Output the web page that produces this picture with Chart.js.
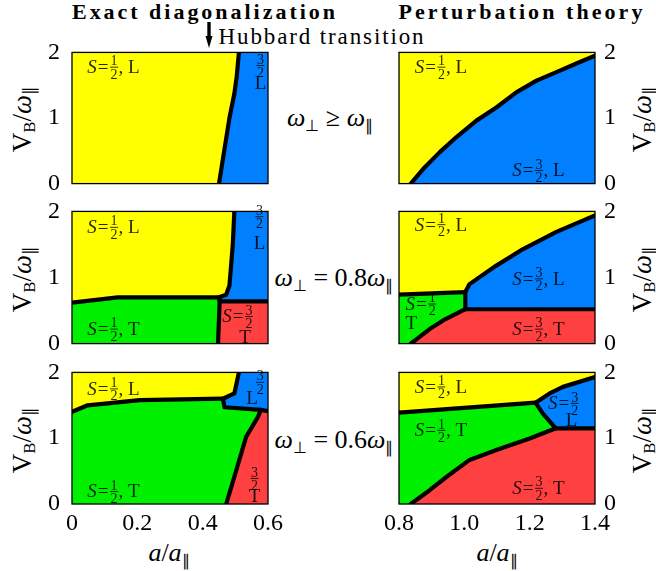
<!DOCTYPE html>
<html lang="en">
<head>
  <meta charset="UTF-8">
  <title>Spin phase diagrams</title>
  <script src="https://cdn.jsdelivr.net/npm/chart.js"></script>
  <style>
    body {
      margin: 0;
      background: #fff;
      width: 656px;
      height: 571px;
      position: relative;
      overflow: hidden;
      font-family: "Liberation Serif", "Times New Roman", serif;
    }
    .box { position: absolute; }
    .t { position: absolute; white-space: nowrap; line-height: 1; color: #000; }
    .b { font-weight: bold; font-size: 22px; }
    .m { font-size: 26px; }
    .c { transform: translate(-50%, -50%); }
    .yt { font-size: 27px; transform: translate(-50%, -50%) rotate(-90deg); }
    sub { font-size: 0.62em; vertical-align: -0.28em; line-height: 0; }
  </style>
</head>
<body>
  <div class="t b" id="h1">Exact diagonalization</div>
  <div class="t b" id="h2">Perturbation theory</div>
  <div class="t m" id="hub" style="font-size:23px">Hubbard transition</div>
  <svg width="12" height="28" style="position:absolute;left:203px;top:21px">
    <line x1="6" y1="1" x2="6" y2="19" stroke="#000" stroke-width="3.4"/>
    <path d="M2.5 15 L6 27 L9.5 15 Z" fill="#000"/>
  </svg>

  <div class="t m c" style="left:330px;top:118px"><i>ω</i><sub>⊥</sub> ≥ <i>ω</i><sub>∥</sub></div>
  <div class="t m c" style="left:334px;top:278px"><i>ω</i><sub>⊥</sub> = 0.8<i>ω</i><sub>∥</sub></div>
  <div class="t m c" style="left:334px;top:440px"><i>ω</i><sub>⊥</sub> = 0.6<i>ω</i><sub>∥</sub></div>

  <div class="t yt" style="left:22px;top:119px">V<sub>B</sub>/<i>ω</i><sub>∥</sub></div>
  <div class="t yt" style="left:22px;top:279px">V<sub>B</sub>/<i>ω</i><sub>∥</sub></div>
  <div class="t yt" style="left:22px;top:440px">V<sub>B</sub>/<i>ω</i><sub>∥</sub></div>
  <div class="t yt" style="left:642px;top:119px">V<sub>B</sub>/<i>ω</i><sub>∥</sub></div>
  <div class="t yt" style="left:642px;top:279px">V<sub>B</sub>/<i>ω</i><sub>∥</sub></div>
  <div class="t yt" style="left:642px;top:440px">V<sub>B</sub>/<i>ω</i><sub>∥</sub></div>

  <div class="t m c" style="left:169px;top:553px"><i>a</i>/<i>a</i><sub>∥</sub></div>
  <div class="t m c" style="left:497px;top:553px"><i>a</i>/<i>a</i><sub>∥</sub></div>

  <div class="box" id="p0"><canvas id="c0"></canvas></div>
  <div class="box" id="p1"><canvas id="c1"></canvas></div>
  <div class="box" id="p2"><canvas id="c2"></canvas></div>
  <div class="box" id="p3"><canvas id="c3"></canvas></div>
  <div class="box" id="p4"><canvas id="c4"></canvas></div>
  <div class="box" id="p5"><canvas id="c5"></canvas></div>

  <script>
    // colours of the four phases
    const YELLOW = "#ffff00", BLUE = "#0080ff", GREEN = "#00f000", RED = "#ff4040";

    // axis ticks
    const edTicks = [0, 0.2, 0.4, 0.6];
    const ptTicks = [0.8, 1, 1.2, 1.4];
    const vbTicks = [0, 1, 2];

    // ---- phase boundaries, [a/a_par, V_B/w_par] ----
    // exact diagonalization, w_perp >= w_par
    const ed1_yb = [[0.45, 0], [0.482, 1.0], [0.497, 1.37], [0.504, 1.62], [0.511, 2]];
    // perturbation theory, w_perp >= w_par
    const pt1_yb = [[0.836, 0], [0.879, 0.25], [0.925, 0.48], [0.976, 0.71], [1.037, 0.96], [1.098, 1.16],
                    [1.159, 1.39], [1.221, 1.57], [1.282, 1.70], [1.343, 1.83], [1.4, 1.95]];

    // exact diagonalization, w_perp = 0.8 w_par
    const ed2_yg = [[0, 0.62], [0.14, 0.70], [0.45, 0.70]];
    const ed2_yb = [[0.45, 0.70], [0.472, 0.74], [0.482, 0.88], [0.492, 1.48], [0.497, 2]];
    const ed2_gb = [[0.45, 0.70], [0.452, 0.64]];
    const ed2_gr = [[0.447, 0], [0.452, 0.64]];
    const ed2_br = [[0.452, 0.64], [0.6, 0.64]];
    // perturbation theory, w_perp = 0.8 w_par
    const pt2_yg = [[0.8, 0.74], [1.003, 0.78]];
    const pt2_yb = [[1.003, 0.78], [1.016, 0.90], [1.098, 1.18], [1.18, 1.43], [1.282, 1.69], [1.4, 1.94]];
    const pt2_gb = [[1.003, 0.78], [1.003, 0.52]];
    const pt2_gr = [[0.836, 0], [0.894, 0.22], [0.935, 0.35], [1.003, 0.52]];
    const pt2_br = [[1.003, 0.52], [1.4, 0.52]];

    // exact diagonalization, w_perp = 0.6 w_par
    const ed3_yg = [[0, 1.40], [0.048, 1.50], [0.207, 1.58], [0.462, 1.60]];
    const ed3_yb = [[0.462, 1.60], [0.497, 1.68], [0.511, 2]];
    const ed3_gb = [[0.462, 1.60], [0.467, 1.47], [0.578, 1.43], [0.6, 1.41]];
    const ed3_gr = [[0.472, 0], [0.503, 0.515], [0.533, 1.02], [0.569, 1.32], [0.578, 1.43]];
    // perturbation theory, w_perp = 0.6 w_par
    const pt3_yg = [[0.8, 1.39], [1.218, 1.54]];
    const pt3_yb = [[1.218, 1.54], [1.261, 1.68], [1.302, 1.78], [1.4, 1.93]];
    const pt3_gb = [[1.218, 1.54], [1.241, 1.37], [1.28, 1.15]];
    const pt3_br = [[1.28, 1.15], [1.4, 1.15]];
    const pt3_gr = [[0.836, 0], [0.894, 0.21], [0.945, 0.41], [1.016, 0.67], [1.098, 0.82], [1.2, 0.995], [1.28, 1.15]];

    const rev = a => a.slice().reverse();

    // phase labels: [a, V_B, tokens, align]
    const ed1_notes = [[0.047, 1.776, ["S", "=", "1/2", ", L"]], [0.577, 1.80, ["3/2"], "center"], [0.577, 1.53, ["L"], "center"]];
    const pt1_notes = [[0.848, 1.776, ["S", "=", "1/2", ", L"]], [1.147, 0.20, ["S", "=", "3/2", ", L"]]];
    const ed2_notes = [[0.047, 1.76, ["S", "=", "1/2", ", L"]], [0.574, 1.92, ["3/2"], "center"], [0.574, 1.52, ["L"], "center"],
                       [0.047, 0.22, ["S", "=", "1/2", ", T"]], [0.46, 0.41, ["S", "=", "3/2"]], [0.53, 0.106, ["T"], "center"]];
    const pt2_notes = [[0.848, 1.80, ["S", "=", "1/2", ", L"]], [1.147, 0.98, ["S", "=", "3/2", ", L"]],
                       [0.82, 0.60, ["S", "=", "1/2"]], [0.82, 0.31, ["T"]], [1.147, 0.22, ["S", "=", "3/2", ", T"]]];
    const ed3_notes = [[0.047, 1.75, ["S", "=", "1/2", ", L"]], [0.551, 1.61, ["L"], "center"], [0.576, 1.85, ["3/2"], "center"],
                       [0.047, 0.19, ["S", "=", "1/2", ", T"]], [0.559, 0.39, ["3/2"], "center"], [0.559, 0.12, ["T"], "center"]];
    const pt3_notes = [[0.848, 1.78, ["S", "=", "1/2", ", L"]], [1.256, 1.53, ["S", "=", "3/2"]], [1.328, 1.27, ["L"], "center"],
                       [0.848, 1.12, ["S", "=", "1/2", ", T"]], [1.147, 0.24, ["S", "=", "3/2", ", T"]]];

    const panels = [
      { col: 0, row: 0, notes: ed1_notes,
        regions: [[YELLOW, [[0, 0], ...ed1_yb, [0, 2]]], [BLUE, [...ed1_yb, [0.6, 2], [0.6, 0]]]],
        lines: [ed1_yb] },
      { col: 1, row: 0, notes: pt1_notes,
        regions: [[YELLOW, [[0.8, 0], ...pt1_yb, [1.4, 2], [0.8, 2]]], [BLUE, [...pt1_yb, [1.4, 0]]]],
        lines: [pt1_yb] },
      { col: 0, row: 1, notes: ed2_notes,
        regions: [[YELLOW, [[0, 2], ...ed2_yg, ...ed2_yb.slice(1)]],
                  [BLUE, [...rev(ed2_yb), ...ed2_br, [0.6, 2]]],
                  [GREEN, [[0, 0], ...ed2_yg, ...ed2_gb.slice(1), ...rev(ed2_gr).slice(1)]],
                  [RED, [...ed2_gr, [0.6, 0.64], [0.6, 0]]]],
        lines: [ed2_yg, ed2_yb, ed2_gb, ed2_gr, ed2_br] },
      { col: 1, row: 1, notes: pt2_notes,
        regions: [[YELLOW, [[0.8, 2], ...pt2_yg, ...pt2_yb.slice(1), [1.4, 2]]],
                  [BLUE, [...pt2_yb, ...rev(pt2_br)]],
                  [GREEN, [[0.8, 0], ...pt2_yg, ...pt2_gb.slice(1), ...rev(pt2_gr).slice(1)]],
                  [RED, [...pt2_gr, [1.4, 0.52], [1.4, 0]]]],
        lines: [pt2_yg, pt2_yb, pt2_gb, pt2_gr, pt2_br] },
      { col: 0, row: 2, notes: ed3_notes,
        regions: [[YELLOW, [[0, 2], ...ed3_yg, ...ed3_yb.slice(1)]],
                  [BLUE, [...rev(ed3_yb), ...ed3_gb.slice(1), [0.6, 2]]],
                  [GREEN, [[0, 0], ...ed3_yg, ...ed3_gb.slice(1, 3), ...rev(ed3_gr).slice(1)]],
                  [RED, [...ed3_gr, [0.6, 1.41], [0.6, 0]]]],
        lines: [ed3_yg, ed3_yb, ed3_gb, ed3_gr] },
      { col: 1, row: 2, notes: pt3_notes,
        regions: [[YELLOW, [[0.8, 2], ...pt3_yg, ...pt3_yb.slice(1), [1.4, 2]]],
                  [BLUE, [...pt3_yb, [1.4, 1.15], ...pt3_gb.slice(1).reverse()]],
                  [GREEN, [[0.8, 0], ...pt3_yg, ...pt3_gb.slice(1), ...rev(pt3_gr).slice(1)]],
                  [RED, [...pt3_gr, [1.4, 1.15], [1.4, 0]]]],
        lines: [pt3_yg, pt3_yb, pt3_gb, pt3_br, pt3_gr] },
    ];

    // page layout of the plot areas
    const colLeft = [72, 399], plotW = 196;
    const rowTop = [52, 211, 372], rowH = [131, 132, 132];
    const PAD = 14, YW = 45, XH = 40;

    const FAM = '"Liberation Serif", "Times New Roman", serif';
    const MAIN = '19px ' + FAM, ITAL = 'italic 19px ' + FAM, FRAC = '14px ' + FAM;

    function tokenWidth(ctx, t) {
      if (t === "S") { ctx.font = ITAL; return ctx.measureText("S").width + 1; }
      if (t === "=") { ctx.font = MAIN; return ctx.measureText("=").width + 1; }
      if (/^\d\/\d$/.test(t)) { ctx.font = FRAC; const [n, d] = t.split("/"); return Math.max(ctx.measureText(n).width, ctx.measureText(d).width) + 2; }
      ctx.font = MAIN; return ctx.measureText(t).width;
    }

    function drawMath(ctx, px, py, tokens, align) {
      const widths = tokens.map(t => tokenWidth(ctx, t));
      let x = px;
      if (align === "center") x -= widths.reduce((s, w) => s + w, 0) / 2;
      const base = py + 6;
      tokens.forEach((t, i) => {
        const w = widths[i];
        if (t === "S") { ctx.font = ITAL; ctx.fillText("S", x, base); }
        else if (t === "=") { ctx.font = MAIN; ctx.fillText("=", x, base); }
        else if (/^\d\/\d$/.test(t)) {
          const [n, d] = t.split("/");
          ctx.font = FRAC;
          ctx.textAlign = "center";
          ctx.fillText(n, x + w / 2, py - 1.8);
          ctx.fillText(d, x + w / 2, py + 11.5);
          ctx.fillRect(x + 0.5, py - 0.4, w - 1, 0.9);
          ctx.textAlign = "left";
        } else { ctx.font = MAIN; ctx.fillText(t, x, base); }
        x += w;
      });
    }

    function makeConfig(p) {
      const left = p.col === 0;
      const bottom = p.row === 2;
      const datasets = [];
      p.regions.forEach(([color, pts]) => {
        datasets.push({
          data: pts.map(([x, y]) => ({ x, y })),
          fill: "shape", backgroundColor: color, borderWidth: 0,
          pointRadius: 0, tension: 0, order: 2
        });
      });
      p.lines.forEach(pts => {
        datasets.push({
          data: pts.map(([x, y]) => ({ x, y })),
          fill: false, borderColor: "#000", borderWidth: 4.2,
          borderCapStyle: "round", borderJoinStyle: "round",
          pointRadius: 0, tension: 0, order: 1
        });
      });
      const tickFont = { family: FAM, size: 24 };
      const xScale = {
        type: "linear", min: left ? 0 : 0.8, max: left ? 0.6 : 1.4,
        display: bottom,
        grid: { display: false, drawTicks: false },
        border: { display: false },
        afterBuildTicks: s => { s.ticks = (left ? edTicks : ptTicks).map(v => ({ value: v })); },
        ticks: { font: tickFont, color: "#000", padding: 5, maxRotation: 0 }
      };
      if (bottom) xScale.afterFit = s => { s.height = XH; };
      return {
        type: "line",
        data: { datasets },
        options: {
          responsive: false,
          maintainAspectRatio: false,
          animation: false,
          events: [],
          layout: { padding: { left: left ? 0 : PAD, right: left ? PAD : 0, top: PAD, bottom: bottom ? 0 : PAD } },
          plugins: { legend: { display: false }, tooltip: { enabled: false } },
          scales: {
            x: xScale,
            y: {
              type: "linear", min: 0, max: 2,
              position: left ? "left" : "right",
              grid: { display: false, drawTicks: false },
              border: { display: false },
              afterBuildTicks: s => { s.ticks = vbTicks.map(v => ({ value: v })); },
              afterFit: s => { s.width = YW; },
              ticks: { font: tickFont, color: "#000", padding: left ? 12 : 9 }
            }
          }
        },
        plugins: [{
          id: "frameAndNotes",
          afterDatasetsDraw(chart) {
            const { ctx, chartArea: a, scales } = chart;
            ctx.save();
            ctx.strokeStyle = "#000";
            ctx.lineWidth = 1.3;
            ctx.strokeRect(a.left, a.top, a.right - a.left, a.bottom - a.top);
            ctx.fillStyle = "rgba(0,0,0,0.85)";
            ctx.textBaseline = "alphabetic";
            ctx.textAlign = "left";
            p.notes.forEach(([x, y, tokens, align]) => {
              drawMath(ctx, scales.x.getPixelForValue(x), scales.y.getPixelForValue(y), tokens, align || "left");
            });
            ctx.restore();
          }
        }]
      };
    }

    function build(cv, w, h, p) {
      cv.width = w; cv.height = h;
      cv.style.width = w + "px"; cv.style.height = h + "px";
      return new Chart(cv, makeConfig(p));
    }

    panels.forEach((p, k) => {
      const bottom = p.row === 2;
      const box = document.getElementById("p" + k);
      const cv = document.getElementById("c" + k);
      const w = YW + plotW + PAD;
      const h = PAD + rowH[p.row] + (bottom ? XH : PAD);
      let chart = build(cv, w, h, p);
      let a = chart.chartArea;
      const dw = plotW - (a.right - a.left), dh = rowH[p.row] - (a.bottom - a.top);
      if (Math.abs(dw) > 0.5 || Math.abs(dh) > 0.5) {
        chart.destroy();
        chart = build(cv, Math.round(w + dw), Math.round(h + dh), p);
        a = chart.chartArea;
      }
      box.style.left = (colLeft[p.col] - a.left) + "px";
      box.style.top = (rowTop[p.row] - a.top) + "px";
    });

    // headings: centre and stretch to the widths seen in the figure
    function place(id, cx, cy, width) {
      const el = document.getElementById(id);
      let r = el.getBoundingClientRect();
      if (width) {
        el.style.letterSpacing = ((width - r.width) / el.textContent.length) + "px";
        r = el.getBoundingClientRect();
      }
      el.style.left = (cx - r.width / 2) + "px";
      el.style.top = (cy - r.height / 2) + "px";
    }
    place("h1", 205, 11.5, 266);
    place("h2", 522, 11.5, 247);
    place("hub", 322, 36, 207);
  </script>
</body>
</html>
